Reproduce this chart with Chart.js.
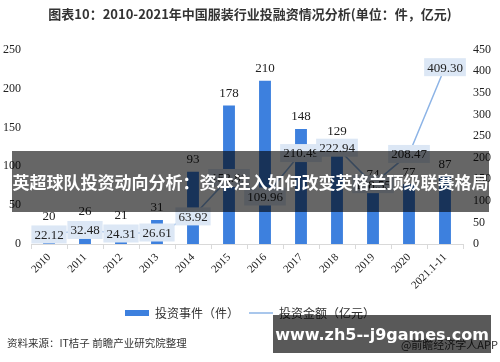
<!DOCTYPE html>
<html>
<head>
<meta charset="utf-8">
<script src="https://cdn.jsdelivr.net/npm/chart.js@4"></script>
<style>
  body { margin: 0; background: #fff; }
  #wrap { position: relative; width: 500px; height: 362px; overflow: hidden; }
  #source { position: absolute; left: 7px; top: 335px; font: 10.5px "Noto Sans CJK SC", sans-serif; color: #333; }
  #app { position: absolute; right: 2px; top: 336px; font: 11px "Noto Sans CJK SC", sans-serif; color: #333; }
  #banner {
    position: absolute; left: 12px; top: 151px; width: 477px; height: 61px;
    background: rgba(0, 0, 0, 0.6); color: #fff;
    font: bold 17px "Noto Sans CJK SC", sans-serif;
    display: flex; align-items: center; justify-content: center; white-space: nowrap;
  }
  #site {
    position: absolute; left: 273px; top: 315px; width: 218px; height: 38px;
    background: rgba(0, 0, 0, 0.65); color: #fff;
    font: bold 16px "DejaVu Sans", sans-serif;
    display: flex; align-items: center; justify-content: center; white-space: nowrap;
  }
</style>
</head>
<body>
<div id="wrap">
  <canvas id="myChart"></canvas>
  <div id="source">资料来源：IT桔子 前瞻产业研究院整理</div>
  <div id="app">@前瞻经济学人APP</div>
  <div id="banner">英超球队投资动向分析：资本注入如何改变英格兰顶级联赛格局</div>
  <div id="site">www.zh5--j9games.com</div>
</div>
<script>
// data
const years = ['2010', '2011', '2012', '2013', '2014', '2015', '2016', '2017', '2018', '2019', '2020', '2021.1-11'];
const eventCounts = [20, 26, 21, 31, 93, 178, 210, 148, 129, 74, 77, 87];
const amounts = [22.12, 32.48, 24.31, 26.61, 63.92, 152.81, 109.96, 210.49, 222.94, 138.55, 208.47, 409.30];
const leftTicks = [0, 250, 50];   // min, max, step
const rightTicks = [0, 450, 50];

const serif = '"Liberation Serif", "Times New Roman", serif';
const sans = '"Noto Sans CJK SC", sans-serif';

// draws the value labels (no datalabels plugin available)
const valueLabels = {
  id: 'valueLabels',
  afterDatasetsDraw(chart) {
    const ctx = chart.ctx;
    ctx.save();
    ctx.font = '13px ' + serif;
    ctx.textAlign = 'center';
    ctx.textBaseline = 'middle';
    chart.getDatasetMeta(0).data.forEach((bar, i) => {
      ctx.fillStyle = '#222';
      ctx.fillText(eventCounts[i], bar.x, bar.y - 12);
    });
    chart.getDatasetMeta(1).data.forEach((pt, i) => {
      const txt = amounts[i].toFixed(2);
      const w = ctx.measureText(txt).width + 6;
      ctx.fillStyle = '#dce7f5';
      ctx.fillRect(pt.x - w / 2, pt.y - 9, w, 18);
      ctx.fillStyle = '#222';
      ctx.fillText(txt, pt.x, pt.y + 1);
    });
    ctx.restore();
  }
};

const ctx = document.getElementById('myChart').getContext('2d');
new Chart(ctx, {
  type: 'bar',
  data: {
    labels: years,
    datasets: [{
      type: 'bar',
      label: '投资事件（件）',
      data: eventCounts,
      backgroundColor: '#3d80de',
      barPercentage: 0.33,
      categoryPercentage: 1,
      yAxisID: 'y',
      pointStyle: 'rect',
      order: 1
    }, {
      type: 'line',
      label: '投资金额（亿元）',
      data: amounts,
      borderColor: '#8db4e6',
      backgroundColor: '#8db4e6',
      borderWidth: 1.5,
      pointRadius: 0,
      pointStyle: 'line',
      tension: 0,
      yAxisID: 'y1',
      order: 0
    }]
  },
  options: {
    responsive: true,
    maintainAspectRatio: false,
    animation: false,
    layout: { padding: { left: 0, right: 0, top: 0, bottom: 33 } },
    plugins: {
      title: {
        display: true,
        text: '图表10：2010-2021年中国服装行业投融资情况分析(单位：件，亿元)',
        color: '#333',
        font: { family: sans, size: 13, weight: 'bold' },
        padding: { top: 6, bottom: 28 }
      },
      legend: {
        position: 'bottom',
        labels: {
          usePointStyle: true,
          pointStyleWidth: 24,
          boxHeight: 6,
          color: '#333',
          font: { family: sans, size: 12 },
          padding: 10,
          sort: (a, b) => a.datasetIndex - b.datasetIndex
        }
      },
      tooltip: { enabled: false }
    },
    scales: {
      x: {
        grid: { display: true, drawOnChartArea: false, tickLength: 5, color: '#d9d9d9' },
        border: { color: '#d9d9d9' },
        ticks: { color: '#222', font: { family: serif, size: 11 }, maxRotation: 45, minRotation: 45, padding: 2 },
        afterFit: (scale) => { scale.height = 53; }
      },
      y: {
        position: 'left',
        min: leftTicks[0], max: leftTicks[1],
        grid: { display: false, drawTicks: false },
        border: { display: false },
        ticks: { stepSize: leftTicks[2], color: '#222', font: { family: serif, size: 12 }, padding: 10 },
        afterFit: (scale) => { scale.width = 31; }
      },
      y1: {
        position: 'right',
        min: rightTicks[0], max: rightTicks[1],
        grid: { display: false, drawTicks: false },
        border: { display: false },
        ticks: { stepSize: rightTicks[2], color: '#222', font: { family: serif, size: 12 }, padding: 10 },
        afterFit: (scale) => { scale.width = 37; }
      }
    }
  },
  plugins: [valueLabels]
});
</script>
</body>
</html>
